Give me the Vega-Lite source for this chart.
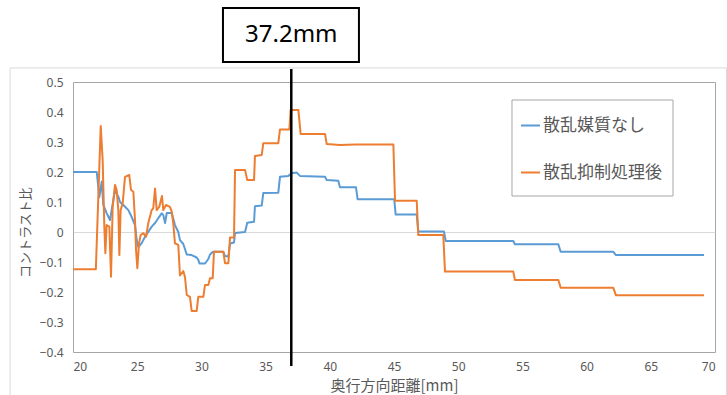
{
  "$schema": "https://vega.github.io/schema/vega-lite/v6.json",
  "width": 642,
  "height": 270,
  "autosize": {"type": "none"},
  "padding": {"left": 73, "top": 82, "right": 12, "bottom": 43},
  "background": "white",
  "config": {
    "font": "Noto Sans CJK JP",
    "view": {"stroke": "#a6a6a6", "strokeWidth": 1},
    "axis": {"labelColor": "#595959", "titleColor": "#595959", "labelFont": "Noto Sans", "titleFont": "Noto Sans CJK JP", "titleFontWeight": "normal", "domain": false, "ticks": false, "grid": false, "labelOverlap": false}
  },
  "datasets": {
    "lines": [
      {"d": 20, "c": 0.2, "s": "散乱媒質なし"},
      {"d": 21.85, "c": 0.2, "s": "散乱媒質なし"},
      {"d": 22.05, "c": 0.116, "s": "散乱媒質なし"},
      {"d": 22.24, "c": 0.168, "s": "散乱媒質なし"},
      {"d": 22.36, "c": 0.09, "s": "散乱媒質なし"},
      {"d": 22.62, "c": 0.063, "s": "散乱媒質なし"},
      {"d": 22.88, "c": 0.04, "s": "散乱媒質なし"},
      {"d": 23.01, "c": 0.073, "s": "散乱媒質なし"},
      {"d": 23.27, "c": 0.14, "s": "散乱媒質なし"},
      {"d": 23.53, "c": 0.118, "s": "散乱媒質なし"},
      {"d": 23.66, "c": 0.1, "s": "散乱媒質なし"},
      {"d": 23.92, "c": 0.09, "s": "散乱媒質なし"},
      {"d": 24.31, "c": 0.073, "s": "散乱媒質なし"},
      {"d": 24.57, "c": 0.05, "s": "散乱媒質なし"},
      {"d": 24.83, "c": 0.023, "s": "散乱媒質なし"},
      {"d": 24.96, "c": -0.027, "s": "散乱媒質なし"},
      {"d": 25.09, "c": -0.05, "s": "散乱媒質なし"},
      {"d": 25.35, "c": -0.037, "s": "散乱媒質なし"},
      {"d": 25.61, "c": -0.016, "s": "散乱媒質なし"},
      {"d": 25.86, "c": 0.0, "s": "散乱媒質なし"},
      {"d": 26.13, "c": 0.018, "s": "散乱媒質なし"},
      {"d": 26.39, "c": 0.03, "s": "散乱媒質なし"},
      {"d": 26.64, "c": 0.046, "s": "散乱媒質なし"},
      {"d": 26.91, "c": 0.062, "s": "散乱媒質なし"},
      {"d": 27.03, "c": 0.057, "s": "散乱媒質なし"},
      {"d": 27.17, "c": 0.03, "s": "散乱媒質なし"},
      {"d": 27.3, "c": 0.063, "s": "散乱媒質なし"},
      {"d": 27.69, "c": 0.063, "s": "散乱媒質なし"},
      {"d": 27.94, "c": 0.023, "s": "散乱媒質なし"},
      {"d": 28.2, "c": 0.0, "s": "散乱媒質なし"},
      {"d": 28.33, "c": -0.027, "s": "散乱媒質なし"},
      {"d": 28.59, "c": -0.04, "s": "散乱媒質なし"},
      {"d": 28.86, "c": -0.075, "s": "散乱媒質なし"},
      {"d": 29.24, "c": -0.077, "s": "散乱媒質なし"},
      {"d": 29.63, "c": -0.085, "s": "散乱媒質なし"},
      {"d": 29.76, "c": -0.093, "s": "散乱媒質なし"},
      {"d": 29.85, "c": -0.105, "s": "散乱媒質なし"},
      {"d": 30.28, "c": -0.105, "s": "散乱媒質なし"},
      {"d": 30.54, "c": -0.09, "s": "散乱媒質なし"},
      {"d": 30.67, "c": -0.075, "s": "散乱媒質なし"},
      {"d": 30.9, "c": -0.066, "s": "散乱媒質なし"},
      {"d": 31.71, "c": -0.066, "s": "散乱媒質なし"},
      {"d": 31.84, "c": -0.08, "s": "散乱媒質なし"},
      {"d": 32.1, "c": -0.082, "s": "散乱媒質なし"},
      {"d": 32.23, "c": -0.038, "s": "散乱媒質なし"},
      {"d": 32.54, "c": -0.035, "s": "散乱媒質なし"},
      {"d": 32.62, "c": -0.003, "s": "散乱媒質なし"},
      {"d": 33.4, "c": 0.0, "s": "散乱媒質なし"},
      {"d": 33.57, "c": 0.031, "s": "散乱媒質なし"},
      {"d": 34.1, "c": 0.034, "s": "散乱媒質なし"},
      {"d": 34.17, "c": 0.086, "s": "散乱媒質なし"},
      {"d": 34.7, "c": 0.088, "s": "散乱媒質なし"},
      {"d": 34.82, "c": 0.13, "s": "散乱媒質なし"},
      {"d": 35.99, "c": 0.131, "s": "散乱媒質なし"},
      {"d": 36.12, "c": 0.184, "s": "散乱媒質なし"},
      {"d": 36.77, "c": 0.187, "s": "散乱媒質なし"},
      {"d": 37.03, "c": 0.196, "s": "散乱媒質なし"},
      {"d": 37.42, "c": 0.198, "s": "散乱媒質なし"},
      {"d": 37.68, "c": 0.187, "s": "散乱媒質なし"},
      {"d": 39.63, "c": 0.184, "s": "散乱媒質なし"},
      {"d": 39.76, "c": 0.173, "s": "散乱媒質なし"},
      {"d": 40.66, "c": 0.171, "s": "散乱媒質なし"},
      {"d": 40.79, "c": 0.149, "s": "散乱媒質なし"},
      {"d": 42.04, "c": 0.149, "s": "散乱媒質なし"},
      {"d": 42.17, "c": 0.109, "s": "散乱媒質なし"},
      {"d": 45.02, "c": 0.109, "s": "散乱媒質なし"},
      {"d": 45.13, "c": 0.058, "s": "散乱媒質なし"},
      {"d": 46.77, "c": 0.058, "s": "散乱媒質なし"},
      {"d": 46.89, "c": 0.002, "s": "散乱媒質なし"},
      {"d": 48.89, "c": 0.002, "s": "散乱媒質なし"},
      {"d": 49.03, "c": -0.03, "s": "散乱媒質なし"},
      {"d": 54.29, "c": -0.03, "s": "散乱媒質なし"},
      {"d": 54.42, "c": -0.041, "s": "散乱媒質なし"},
      {"d": 57.8, "c": -0.041, "s": "散乱媒質なし"},
      {"d": 57.98, "c": -0.066, "s": "散乱媒質なし"},
      {"d": 62.08, "c": -0.066, "s": "散乱媒質なし"},
      {"d": 62.29, "c": -0.077, "s": "散乱媒質なし"},
      {"d": 69.14, "c": -0.077, "s": "散乱媒質なし"},
      {"d": 20, "c": -0.124, "s": "散乱抑制処理後"},
      {"d": 21.78, "c": -0.124, "s": "散乱抑制処理後"},
      {"d": 22.16, "c": 0.353, "s": "散乱抑制処理後"},
      {"d": 22.31, "c": 0.24, "s": "散乱抑制処理後"},
      {"d": 22.44, "c": 0.018, "s": "散乱抑制処理後"},
      {"d": 22.52, "c": -0.071, "s": "散乱抑制処理後"},
      {"d": 22.62, "c": 0.023, "s": "散乱抑制処理後"},
      {"d": 22.83, "c": 0.018, "s": "散乱抑制処理後"},
      {"d": 22.96, "c": -0.149, "s": "散乱抑制処理後"},
      {"d": 23.09, "c": 0.084, "s": "散乱抑制処理後"},
      {"d": 23.27, "c": 0.157, "s": "散乱抑制処理後"},
      {"d": 23.4, "c": 0.14, "s": "散乱抑制処理後"},
      {"d": 23.53, "c": 0.073, "s": "散乱抑制処理後"},
      {"d": 23.61, "c": -0.077, "s": "散乱抑制処理後"},
      {"d": 23.71, "c": 0.073, "s": "散乱抑制処理後"},
      {"d": 23.87, "c": 0.096, "s": "散乱抑制処理後"},
      {"d": 24.05, "c": 0.184, "s": "散乱抑制処理後"},
      {"d": 24.38, "c": 0.19, "s": "散乱抑制処理後"},
      {"d": 24.52, "c": 0.14, "s": "散乱抑制処理後"},
      {"d": 24.7, "c": 0.134, "s": "散乱抑制処理後"},
      {"d": 24.83, "c": 0.04, "s": "散乱抑制処理後"},
      {"d": 24.91, "c": -0.06, "s": "散乱抑制処理後"},
      {"d": 25.01, "c": -0.121, "s": "散乱抑制処理後"},
      {"d": 25.14, "c": -0.038, "s": "散乱抑制処理後"},
      {"d": 25.27, "c": -0.01, "s": "散乱抑制処理後"},
      {"d": 25.48, "c": -0.004, "s": "散乱抑制処理後"},
      {"d": 25.69, "c": -0.016, "s": "散乱抑制処理後"},
      {"d": 25.86, "c": 0.029, "s": "散乱抑制処理後"},
      {"d": 26.13, "c": 0.073, "s": "散乱抑制処理後"},
      {"d": 26.25, "c": 0.079, "s": "散乱抑制処理後"},
      {"d": 26.39, "c": 0.145, "s": "散乱抑制処理後"},
      {"d": 26.52, "c": 0.073, "s": "散乱抑制処理後"},
      {"d": 26.72, "c": 0.084, "s": "散乱抑制処理後"},
      {"d": 26.93, "c": 0.12, "s": "散乱抑制処理後"},
      {"d": 27.03, "c": 0.073, "s": "散乱抑制処理後"},
      {"d": 27.24, "c": 0.09, "s": "散乱抑制処理後"},
      {"d": 27.55, "c": 0.084, "s": "散乱抑制処理後"},
      {"d": 27.69, "c": 0.068, "s": "散乱抑制処理後"},
      {"d": 27.81, "c": 0.029, "s": "散乱抑制処理後"},
      {"d": 27.94, "c": -0.038, "s": "散乱抑制処理後"},
      {"d": 28.2, "c": -0.043, "s": "散乱抑制処理後"},
      {"d": 28.33, "c": -0.145, "s": "散乱抑制処理後"},
      {"d": 28.59, "c": -0.13, "s": "散乱抑制処理後"},
      {"d": 28.72, "c": -0.15, "s": "散乱抑制処理後"},
      {"d": 28.86, "c": -0.21, "s": "散乱抑制処理後"},
      {"d": 29.11, "c": -0.216, "s": "散乱抑制処理後"},
      {"d": 29.24, "c": -0.263, "s": "散乱抑制処理後"},
      {"d": 29.63, "c": -0.263, "s": "散乱抑制処理後"},
      {"d": 29.76, "c": -0.216, "s": "散乱抑制処理後"},
      {"d": 30.15, "c": -0.216, "s": "散乱抑制処理後"},
      {"d": 30.28, "c": -0.177, "s": "散乱抑制処理後"},
      {"d": 30.54, "c": -0.177, "s": "散乱抑制処理後"},
      {"d": 30.67, "c": -0.154, "s": "散乱抑制処理後"},
      {"d": 30.88, "c": -0.154, "s": "散乱抑制処理後"},
      {"d": 30.98, "c": -0.066, "s": "散乱抑制処理後"},
      {"d": 31.71, "c": -0.066, "s": "散乱抑制処理後"},
      {"d": 31.84, "c": -0.104, "s": "散乱抑制処理後"},
      {"d": 32.1, "c": -0.104, "s": "散乱抑制処理後"},
      {"d": 32.23, "c": -0.018, "s": "散乱抑制処理後"},
      {"d": 32.54, "c": -0.018, "s": "散乱抑制処理後"},
      {"d": 32.62, "c": 0.207, "s": "散乱抑制処理後"},
      {"d": 33.4, "c": 0.207, "s": "散乱抑制処理後"},
      {"d": 33.57, "c": 0.173, "s": "散乱抑制処理後"},
      {"d": 34.1, "c": 0.173, "s": "散乱抑制処理後"},
      {"d": 34.17, "c": 0.253, "s": "散乱抑制処理後"},
      {"d": 34.7, "c": 0.257, "s": "散乱抑制処理後"},
      {"d": 34.82, "c": 0.296, "s": "散乱抑制処理後"},
      {"d": 35.99, "c": 0.296, "s": "散乱抑制処理後"},
      {"d": 36.12, "c": 0.342, "s": "散乱抑制処理後"},
      {"d": 36.85, "c": 0.342, "s": "散乱抑制処理後"},
      {"d": 36.95, "c": 0.407, "s": "散乱抑制処理後"},
      {"d": 37.55, "c": 0.407, "s": "散乱抑制処理後"},
      {"d": 37.73, "c": 0.327, "s": "散乱抑制処理後"},
      {"d": 39.63, "c": 0.327, "s": "散乱抑制処理後"},
      {"d": 39.76, "c": 0.293, "s": "散乱抑制処理後"},
      {"d": 40.79, "c": 0.29, "s": "散乱抑制処理後"},
      {"d": 42.0, "c": 0.292, "s": "散乱抑制処理後"},
      {"d": 44.95, "c": 0.292, "s": "散乱抑制処理後"},
      {"d": 45.08, "c": 0.104, "s": "散乱抑制処理後"},
      {"d": 46.77, "c": 0.104, "s": "散乱抑制処理後"},
      {"d": 46.89, "c": -0.01, "s": "散乱抑制処理後"},
      {"d": 48.84, "c": -0.01, "s": "散乱抑制処理後"},
      {"d": 48.97, "c": -0.132, "s": "散乱抑制処理後"},
      {"d": 54.29, "c": -0.132, "s": "散乱抑制処理後"},
      {"d": 54.42, "c": -0.16, "s": "散乱抑制処理後"},
      {"d": 57.8, "c": -0.16, "s": "散乱抑制処理後"},
      {"d": 57.98, "c": -0.186, "s": "散乱抑制処理後"},
      {"d": 62.08, "c": -0.186, "s": "散乱抑制処理後"},
      {"d": 62.29, "c": -0.211, "s": "散乱抑制処理後"},
      {"d": 69.14, "c": -0.211, "s": "散乱抑制処理後"}
    ],
    "marker": [{"d": 37.0, "label": "37.2mm"}]
  },
  "layer": [
    {
      "data": {"name": "lines"},
      "mark": {"type": "line", "strokeWidth": 2, "strokeJoin": "round"},
      "encoding": {
        "x": {
          "field": "d", "type": "quantitative",
          "scale": {"domain": [20, 70], "nice": false, "zero": false},
          "axis": {"values": [20, 25, 30, 35, 40, 45, 50, 55, 60, 65, 70], "format": "d", "labelFontSize": 12, "labelPadding": 9, "labelOverlap": false, "title": "奥行方向距離[mm]", "titleFontSize": 15, "titleY": 33, "titleBaseline": "middle"}
        },
        "y": {
          "field": "c", "type": "quantitative",
          "scale": {"domain": [-0.4, 0.5], "nice": false, "zero": false},
          "axis": {"values": [-0.4, -0.3, -0.2, -0.1, 0, 0.1, 0.2, 0.3, 0.4, 0.5], "tickCount": 10, "format": ".1~f", "labelFontSize": 12, "labelPadding": 10, "labelOverlap": false, "labelBound": false, "grid": true, "gridColor": {"condition": {"test": "abs(datum.value) < 0.001", "value": "#d9d9d9"}, "value": "transparent"}, "title": "コントラスト比", "titleFontSize": 13, "titleX": -48, "titleY": 150, "titleAlign": "center", "titleBaseline": "middle"}
        },
        "color": {
          "field": "s", "type": "nominal",
          "scale": {"domain": ["散乱媒質なし", "散乱抑制処理後"], "range": ["#5B9BD5", "#ED7D31"]},
          "legend": {"title": null, "orient": "none", "legendX": 447, "legendY": 33, "symbolType": "stroke", "symbolSize": 361, "symbolStrokeWidth": 2, "labelFontSize": 17, "labelColor": "#595959", "labelOffset": 2, "rowPadding": 28, "padding": 0, "labelLimit": 300}
        },
        "order": {"field": "d", "type": "quantitative"}
      }
    },
    {
      "data": {"name": "marker"},
      "mark": {"type": "rect", "fill": null, "stroke": "#d9d9d9", "strokeWidth": 1},
      "encoding": {
        "x": {"datum": 15.1, "type": "quantitative"},
        "x2": {"datum": 70.9},
        "y": {"datum": 0.547, "type": "quantitative"},
        "y2": {"datum": -0.6}
      }
    },
    {
      "data": {"name": "marker"},
      "mark": {"type": "rect", "fill": null, "stroke": "#a6a6a6", "strokeWidth": 1},
      "encoding": {
        "x": {"datum": 54.19, "type": "quantitative"},
        "x2": {"datum": 66.73},
        "y": {"datum": 0.44, "type": "quantitative"},
        "y2": {"datum": 0.12}
      }
    },
    {
      "data": {"name": "marker"},
      "mark": {"type": "rule", "color": "black", "strokeWidth": 2.5},
      "encoding": {
        "x": {"field": "d", "type": "quantitative"},
        "y": {"datum": 0.543, "type": "quantitative"},
        "y2": {"datum": -0.447}
      }
    },
    {
      "data": {"name": "marker"},
      "mark": {"type": "rect", "fill": "white", "stroke": "black", "strokeWidth": 2},
      "encoding": {
        "x": {"datum": 31.68, "type": "quantitative"},
        "x2": {"datum": 42.27},
        "y": {"datum": 0.747, "type": "quantitative"},
        "y2": {"datum": 0.567}
      }
    },
    {
      "data": {"name": "marker"},
      "mark": {"type": "text", "fontSize": 24, "font": "Noto Sans", "color": "black", "baseline": "middle", "align": "center"},
      "encoding": {
        "x": {"field": "d", "type": "quantitative"},
        "y": {"datum": 0.657, "type": "quantitative"},
        "text": {"field": "label"}
      }
    }
  ]
}
